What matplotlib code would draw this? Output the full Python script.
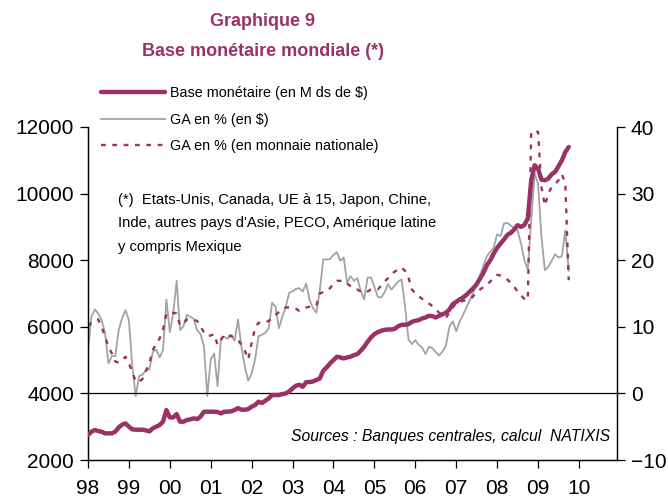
import matplotlib
matplotlib.use("Agg")
import matplotlib.pyplot as plt
import numpy as np

plt.rcParams['font.family'] = ['Liberation Sans', 'DejaVu Sans']

# ---- data (monthly, Jan 1998 -> Oct 2009) ----
start_year = 1998
base_monetaire = [
    2750, 2850, 2900, 2870, 2850, 2800, 2800, 2800, 2850, 2980, 3060, 3100,   # 1998
    3000, 2920, 2910, 2910, 2910, 2890, 2860, 2950, 3000, 3050, 3150, 3500,   # 1999
    3280, 3280, 3380, 3150, 3150, 3200, 3220, 3250, 3230, 3300, 3450, 3450,   # 2000
    3450, 3450, 3440, 3400, 3450, 3450, 3460, 3500, 3560, 3510, 3510, 3530,   # 2001
    3600, 3650, 3750, 3710, 3780, 3850, 3950, 3950, 3950, 3980, 4000, 4060,   # 2002
    4150, 4230, 4260, 4200, 4340, 4340, 4360, 4400, 4450, 4680, 4780, 4900,   # 2003
    5000, 5100, 5080, 5050, 5080, 5100, 5150, 5180, 5280, 5400, 5550, 5680,   # 2004
    5780, 5840, 5880, 5910, 5920, 5920, 5940, 6020, 6060, 6060, 6080, 6150,   # 2005
    6180, 6200, 6250, 6280, 6330, 6320, 6280, 6330, 6380, 6420, 6520, 6680,   # 2006
    6750, 6820, 6880, 6960, 7060, 7160, 7280, 7450, 7620, 7850, 8000, 8200,   # 2007
    8370, 8500, 8620, 8760, 8820, 8920, 9050, 9000, 9060, 9250, 10400, 10850, # 2008
    10750, 10420, 10400, 10450, 10580, 10650, 10820, 11000, 11250, 11400,     # 2009
]
ga_dollars = [
    6.5, 11.5, 12.6, 12.0, 11.0, 9.1, 4.5, 5.6, 5.6, 9.5, 11.3, 12.5,
    11.0, 4.0, -0.4, 2.6, 2.8, 3.5, 3.6, 6.2, 6.6, 5.4, 6.5, 14.1,
    9.2, 12.0, 16.9, 9.5, 10.1, 11.8, 11.5, 11.2, 9.5, 8.9, 7.1, -0.4,
    5.1, 6.0, 1.1, 8.3, 8.5, 8.2, 8.8, 7.9, 11.1, 7.0, 4.0, 1.9,
    3.0, 5.1, 8.6, 8.8, 9.1, 9.8, 13.6, 13.0, 9.8, 11.5, 13.0, 15.1,
    15.3, 15.7, 15.8, 15.3, 16.5, 14.0, 12.8, 12.1, 15.5, 20.1, 20.1, 20.2,
    20.8, 21.2, 19.9, 20.4, 16.6, 17.6, 16.9, 17.3, 15.4, 14.1, 17.4, 17.4,
    16.0, 14.5, 14.4, 15.2, 16.4, 15.6, 16.2, 16.8, 17.1, 13.0, 8.1, 7.4,
    8.0, 7.3, 6.9, 5.9, 7.0, 6.8, 6.2, 5.7, 6.3, 7.2, 10.0, 10.8,
    9.3, 10.8, 11.8, 12.9, 14.0, 15.2, 16.3, 17.8, 19.2, 20.6, 21.3, 21.9,
    23.9, 23.6, 25.5, 25.6, 25.2, 24.8, 24.5, 22.5, 20.0, 18.6, 26.0, 33.0,
    31.5, 23.5, 18.5, 19.0, 19.9, 20.9, 20.4, 20.6, 24.5, 18.4,
]
ga_monnaie_nat = [
    10.1, 10.6, 11.0, 11.1, 10.0, 8.5, 7.0, 6.0, 4.8, 4.6, 5.0, 5.5,
    4.5, 3.2, 1.8, 1.7, 2.2, 3.4, 4.5, 6.5, 7.5, 8.2, 9.6, 12.0,
    12.1, 12.1, 12.0, 10.2, 10.5, 11.1, 11.1, 11.0, 10.9, 10.0, 9.2, 8.6,
    8.7, 8.9, 7.3, 8.0, 8.9, 8.7, 8.6, 8.3, 8.0, 7.3, 6.4, 5.1,
    7.6, 9.8, 10.6, 10.6, 10.6, 10.9, 11.3, 11.8, 12.2, 12.6, 12.9, 12.9,
    12.9, 12.7, 12.4, 12.6, 12.9, 13.0, 13.0, 13.2, 15.0, 15.2, 15.4, 15.8,
    16.5, 16.9, 16.9, 16.9, 16.5, 16.1, 15.7, 15.6, 15.3, 15.1, 15.3, 15.6,
    15.6, 15.6, 16.2, 16.8, 17.3, 17.9, 18.3, 18.6, 18.9, 18.4, 17.4, 15.6,
    15.0, 14.6, 14.2, 13.9, 13.5, 13.1, 12.6, 12.1, 11.7, 11.4, 12.1, 12.9,
    13.6, 13.7, 13.9, 14.0, 14.1, 14.6, 15.2, 15.6, 16.0, 16.3, 16.8, 17.4,
    17.8, 17.7, 17.4, 17.1, 16.6, 16.0, 15.3, 14.7, 14.2, 14.0, 39.3, 39.3,
    39.3, 31.0, 28.2, 30.0, 31.0, 31.4, 32.0, 32.9, 31.5, 17.0,
]
year_ticks = list(range(1998, 2011))
year_labels = ["98", "99", "00", "01", "02", "03", "04", "05", "06", "07", "08", "09", "10"]
left_ticks = [2000, 4000, 6000, 8000, 10000, 12000]
right_ticks = [-10, 0, 10, 20, 30, 40]

labels = ["Base monétaire (en M ds de $)", "GA en % (en $)", "GA en % (en monnaie nationale)"]

PURPLE = "#993366"
GREY = "#A3A3A3"

t = start_year + np.arange(len(base_monetaire)) / 12.0

W, H = 668, 499
fig = plt.figure(figsize=(W / 100, H / 100), dpi=100)
ax = fig.add_axes([88 / W, 1 - 460 / H, (617 - 88) / W, (460 - 127) / H])
ax2 = ax.twinx()

l2, = ax2.plot(t, ga_dollars, color=GREY, lw=1.3, zorder=2)
l3, = ax2.plot(t, ga_monnaie_nat, color=PURPLE, lw=1.7, linestyle=(0, (2.0, 2.8)), zorder=3)
l1, = ax.plot(t, base_monetaire, color=PURPLE, lw=3.2, zorder=4, solid_capstyle='round')

ax.set_zorder(ax2.get_zorder() + 1)
ax.patch.set_visible(False)

ax.set_xlim(1998, 2010.93)
ax.set_ylim(2000, 12000)
ax2.set_ylim(-10, 40)
ax.axhline(4000, color="black", lw=0.9, zorder=1)

ax.set_xticks(year_ticks)
ax.set_xticklabels(year_labels)
ax.set_yticks(left_ticks)
ax2.set_yticks(right_ticks)

for a in (ax, ax2):
    a.spines['top'].set_visible(False)
    for s in ('left', 'right', 'bottom'):
        a.spines[s].set_linewidth(0.9)
        a.spines[s].set_color('black')
    a.tick_params(axis='both', direction='out', length=6, width=0.9, labelsize=15, pad=4)
ax.tick_params(axis='x', pad=8)

fig.legend([l1, l2, l3], labels, loc='upper left', bbox_to_anchor=(101 / W, 1 - 86 / H),
           frameon=False, fontsize=10.4, handlelength=4.4, handletextpad=0.35,
           labelspacing=0.88, borderaxespad=0, borderpad=0)

fig.text(263 / W, 1 - 22 / H, "Graphique 9", ha='center', va='center',
         fontsize=13, fontweight='bold', color=PURPLE)
fig.text(263 / W, 1 - 51 / H, "Base monétaire mondiale (*)", ha='center', va='center',
         fontsize=13, fontweight='bold', color=PURPLE)

note_lines = ["(*)  Etats-Unis, Canada, UE à 15, Japon, Chine,",
              "Inde, autres pays d'Asie, PECO, Amérique latine",
              "y compris Mexique"]
for k, s in enumerate(note_lines):
    fig.text(118 / W, 1 - (200 + 23.5 * k) / H, s, ha='left', va='center', fontsize=10.6)

fig.text(610 / W, 1 - 437 / H, "Sources : Banques centrales, calcul  NATIXIS",
         ha='right', va='center', fontsize=11.3, style='italic')

fig.savefig("out.png", dpi=100)
